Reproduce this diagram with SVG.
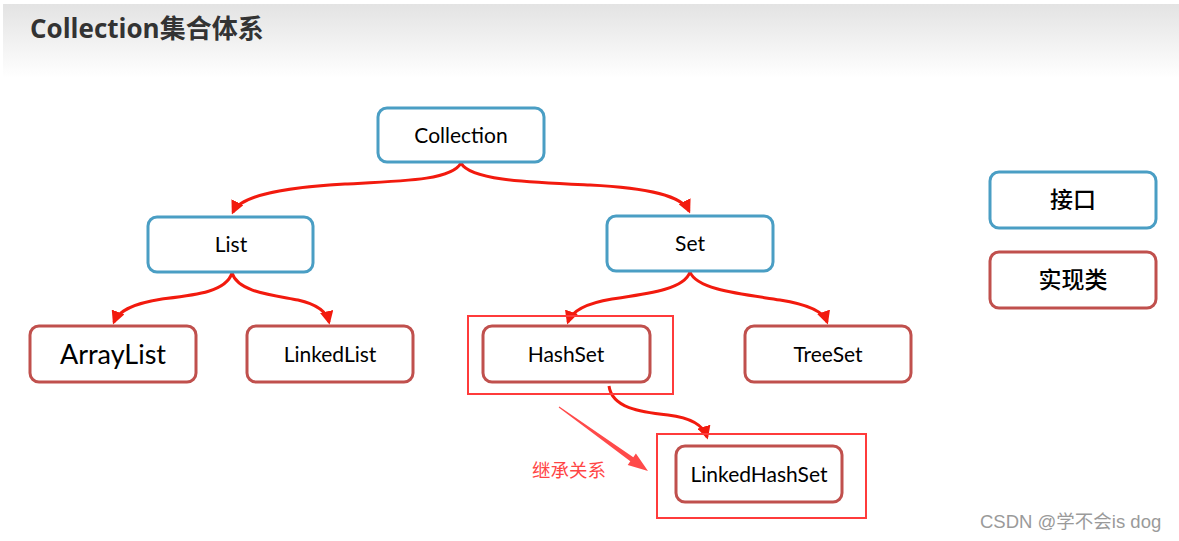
<svg xmlns="http://www.w3.org/2000/svg" width="1179" height="541" viewBox="0 0 1179 541">
<style>
.iface{fill:#fff;stroke:#4a9ec4;stroke-width:3}
.impl{fill:#fff;stroke:#c0504d;stroke-width:3}
.hl{fill:none;stroke:#ff3b3b;stroke-width:2}
.lbl{font-family:Lato,"Open Sans","Noto Sans CJK SC",sans-serif;font-size:21px;fill:#000;text-anchor:middle}
.cjk{font-family:"Noto Sans CJK SC",sans-serif;font-size:23px;fill:#000;text-anchor:middle;font-weight:500}
.conn{fill:none;stroke:#f21a0e;stroke-width:3}
</style>
<defs>
<linearGradient id="hdr" x1="0" y1="0" x2="0" y2="1">
<stop offset="0" stop-color="#e3e3e3"/>
<stop offset="1" stop-color="#ffffff"/>
</linearGradient>
<marker id="ah" viewBox="0 0 10 10" refX="8" refY="5" markerWidth="4.5" markerHeight="4.5" orient="auto" markerUnits="strokeWidth">
<path d="M0,0 L10,5 L0,10 z" fill="#f21a0e"/>
</marker>
</defs>
<rect width="1179" height="541" fill="#fff"/>
<rect x="3" y="4" width="1176" height="74" fill="url(#hdr)"/>
<text x="30" y="38" font-family="'Open Sans','Noto Sans CJK SC',sans-serif" font-size="26" font-weight="bold" fill="#333">Collection集合体系</text>

<g id="connectors">
<path class="conn" marker-end="url(#ah)" d="M461,163 C452,180 405,181 345,184 C275,188 240,197 233,212"/>
<path class="conn" marker-end="url(#ah)" d="M461,163 C470,180 525,182 590,185 C650,188 682,196 689,211"/>
<path class="conn" marker-end="url(#ah)" d="M232,273 C226,292 195,295 162,299 C130,304 118,312 114,322"/>
<path class="conn" marker-end="url(#ah)" d="M232,273 C238,292 272,295 298,300 C320,305 327,313 329,322"/>
<path class="conn" marker-end="url(#ah)" d="M690,272 C684,290 645,294 612,299 C582,304 571,313 568,322"/>
<path class="conn" marker-end="url(#ah)" d="M690,272 C697,290 742,294 780,300 C812,305 824,313 827,322"/>
<path class="conn" marker-end="url(#ah)" d="M609,386 C612,408 640,412 668,415 C693,418 704,427 707,437"/>
</g>

<g id="Collection"><rect class="iface" x="378" y="108" width="166" height="54" rx="9"/><text class="lbl" x="461" y="143">Collection</text></g>
<g id="List"><rect class="iface" x="148" y="217" width="165" height="55" rx="9"/><text class="lbl" x="231" y="252">List</text></g>
<g id="Set"><rect class="iface" x="607" y="216" width="166" height="55" rx="9"/><text class="lbl" x="690" y="251">Set</text></g>
<g id="ArrayList"><rect class="impl" x="30" y="326" width="166" height="56" rx="9"/><text class="lbl" x="113" y="364" style="font-size:27px">ArrayList</text></g>
<g id="LinkedList"><rect class="impl" x="247" y="326" width="166" height="56" rx="9"/><text class="lbl" x="330" y="362">LinkedList</text></g>
<g id="HashSet"><rect class="hl" x="468" y="316" width="205" height="78"/><rect class="impl" x="483" y="326" width="167" height="56" rx="9"/><text class="lbl" x="566" y="362">HashSet</text></g>
<g id="TreeSet"><rect class="impl" x="745" y="326" width="166" height="56" rx="9"/><text class="lbl" x="828" y="362">TreeSet</text></g>
<g id="LinkedHashSet"><rect class="hl" x="657" y="434" width="209" height="84"/><rect class="impl" x="676" y="446" width="166" height="56" rx="9"/><text class="lbl" x="759" y="482">LinkedHashSet</text></g>

<g id="legend-interface"><rect class="iface" x="990" y="172" width="166" height="56" rx="9"/><text class="cjk" x="1073" y="208">接口</text></g>
<g id="legend-impl"><rect class="impl" x="990" y="252" width="166" height="56" rx="9"/><text class="cjk" x="1073" y="288">实现类</text></g>

<g id="annotation">
<polygon fill="#ff4a4a" points="558.7,407.4 559.3,406.6 633.3,457.2 635.9,453.6 648,471 627.7,465 630.3,461.3"/>
<text x="532" y="477" font-family="'Noto Sans CJK SC',sans-serif" font-size="18.5" fill="#ff4545">继承关系</text>
</g>
<text x="980" y="528" font-family="'Liberation Sans','Noto Sans CJK SC',sans-serif" font-size="18.5" fill="#9a9a9a">CSDN @学不会is dog</text>
</svg>
